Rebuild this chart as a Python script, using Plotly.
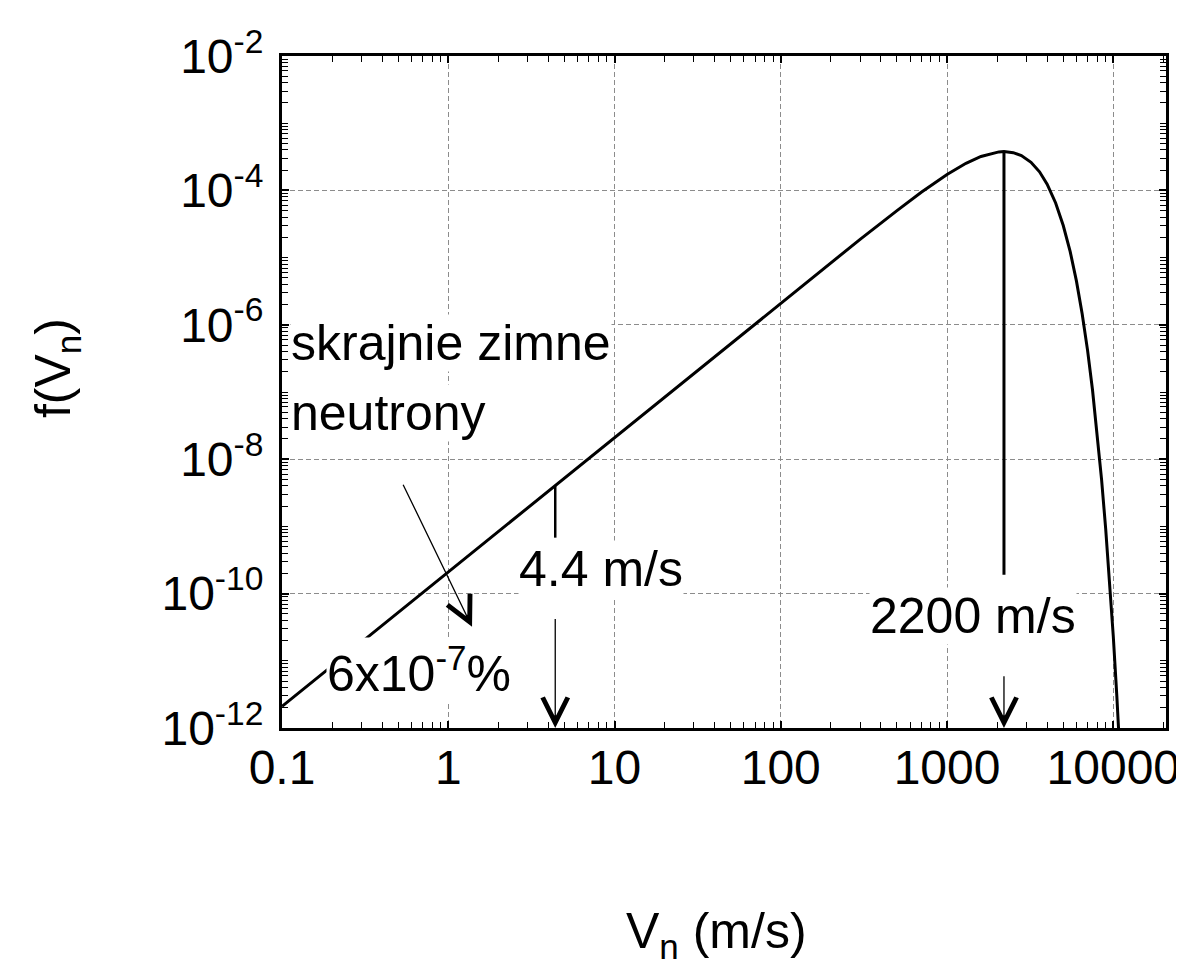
import numpy as np
import plotly.graph_objects as go

# ---- data ----
v_ms = [0.1, 1, 4.4, 10, 100, 300, 500, 700, 1000, 1300, 1600, 1900, 2050, 2200,
        2350, 2500, 2800, 3200, 3600, 4000, 4500, 5000, 5500, 6000, 6500, 7000,
        7500, 8000, 8500, 9000, 9500, 10000, 10500, 10750]
f_v = [2.1e-12, 2.1e-10, 4.1e-9, 2.1e-8, 2.1e-6, 1.87e-5, 5.0e-5, 9.4e-5, 1.72e-4,
       2.53e-4, 3.2e-4, 3.63e-4, 3.74e-4, 3.78e-4, 3.74e-4, 3.64e-4, 3.29e-4,
       2.62e-4, 1.89e-4, 1.24e-4, 6.5e-5, 3.0e-5, 1.24e-5, 4.5e-6, 1.45e-6, 4.2e-7,
       1.07e-7, 2.45e-8, 5.0e-9, 9.2e-10, 1.5e-10, 2.3e-11, 3.0e-12, 1.0e-12]

x_tick_vals = [0.1, 1, 10, 100, 1000, 10000]
x_tick_text = ["0.1", "1", "10", "100", "1000", "10000"]
y_tick_vals = [1e-2, 1e-4, 1e-6, 1e-8, 1e-10, 1e-12]
y_tick_text = ["10<sup>-2</sup>", "10<sup>-4</sup>", "10<sup>-6</sup>",
               "10<sup>-8</sup>", "10<sup>-10</sup>", "10<sup>-12</sup>"]

# markers (velocity, value at curve, lower end of drop line, arrow tail)
v_cold = 4.4
f_cold = 4.1e-9
f_cold_line_end = 6.8e-10
f_cold_arrow_tail = 4.4e-11
v_peak = 2200
f_peak = 3.78e-4
f_peak_line_end = 1.9e-10
f_peak_arrow_tail = 6.2e-12
f_axis_bottom = 1e-12
# arrow from the "skrajnie zimne neutrony" label
arrow_tail = (0.53, 4.4e-9)
arrow_tip = (1.39, 3.2e-11)

FONT = "Liberation Sans, Arial, sans-serif"
L = np.log10

fig = go.Figure()
fig.add_trace(go.Scatter(x=v_ms, y=f_v, mode="lines",
                         line=dict(color="black", width=3), showlegend=False))
fig.add_trace(go.Scatter(x=[v_cold, v_cold], y=[f_cold, f_cold_line_end], mode="lines",
                         line=dict(color="black", width=2.5), showlegend=False))
fig.add_trace(go.Scatter(x=[v_peak, v_peak], y=[f_peak, f_peak_line_end], mode="lines",
                         line=dict(color="black", width=3), showlegend=False))

arrow_common = dict(xref="x", yref="y", axref="x", ayref="y", text="", showarrow=True,
                    arrowhead=5, arrowsize=3.8, arrowwidth=1.3, arrowcolor="black",
                    standoff=0, startstandoff=0)
fig.add_annotation(x=L(v_cold), y=L(f_axis_bottom), ax=L(v_cold), ay=L(f_cold_arrow_tail),
                   **arrow_common)
fig.add_annotation(x=L(v_peak), y=L(f_axis_bottom), ax=L(v_peak), ay=L(f_peak_arrow_tail),
                   **arrow_common)
fig.add_annotation(x=L(arrow_tip[0]), y=L(arrow_tip[1]), ax=L(arrow_tail[0]), ay=L(arrow_tail[1]),
                   **arrow_common)

txt = dict(xref="x", yref="y", showarrow=False, bgcolor="white", borderpad=0,
           font=dict(family=FONT, size=50, color="black"))
fig.add_annotation(x=L(0.112), y=-6.27, text="skrajnie zimne", xanchor="left", yanchor="middle", **txt)
fig.add_annotation(x=L(0.112), y=-7.31, text="neutrony", xanchor="left", yanchor="middle", **txt)
fig.add_annotation(x=L(8.3), y=-9.63, text="4.4 m/s", xanchor="center", yanchor="middle", **txt)
fig.add_annotation(x=L(1430), y=-10.33, text="2200 m/s", xanchor="center", yanchor="middle", **txt)
fig.add_annotation(x=L(0.185), y=-11.13, text="6x10<sup>-7</sup>%", xanchor="left", yanchor="middle", **txt)

# axis titles
fig.add_annotation(xref="paper", yref="paper", x=0.491, y=-0.258, xanchor="center", yanchor="top",
                   text="V<sub>n</sub> (m/s)", showarrow=False,
                   font=dict(family=FONT, size=50, color="black"))
fig.add_annotation(xref="paper", yref="paper", x=-0.255, y=0.535, xanchor="center", yanchor="middle",
                   text="f(V<sub>n</sub>)", textangle=-90, showarrow=False,
                   font=dict(family=FONT, size=50, color="black"))

axis_common = dict(type="log", showline=True, linecolor="black", linewidth=3,
                   mirror="allticks", ticks="inside", ticklen=7, tickwidth=1.5,
                   tickcolor="black", showgrid=True, gridcolor="#8c8c8c", gridwidth=1,
                   griddash="5px,3px", zeroline=False,
                   tickfont=dict(family=FONT, size=48, color="black"),
                   minor=dict(ticks="inside", ticklen=6, tickwidth=1.3, tickcolor="black",
                              dtick="D1", showgrid=False))
fig.update_xaxes(range=[-1, 4.317], tickmode="array", tickvals=x_tick_vals,
                 ticktext=x_tick_text, ticklabelposition="outside",
                 ticklabelstandoff=-5, **axis_common)
fig.update_yaxes(range=[-12, -2], tickmode="array", tickvals=y_tick_vals,
                 ticktext=y_tick_text, ticklabelposition="outside",
                 ticklabelstandoff=6, **axis_common)

fig.update_layout(width=1184, height=976, margin=dict(l=274, r=22, t=48, b=256),
                  plot_bgcolor="white", paper_bgcolor="white", showlegend=False)

fig.write_html("out.html")
